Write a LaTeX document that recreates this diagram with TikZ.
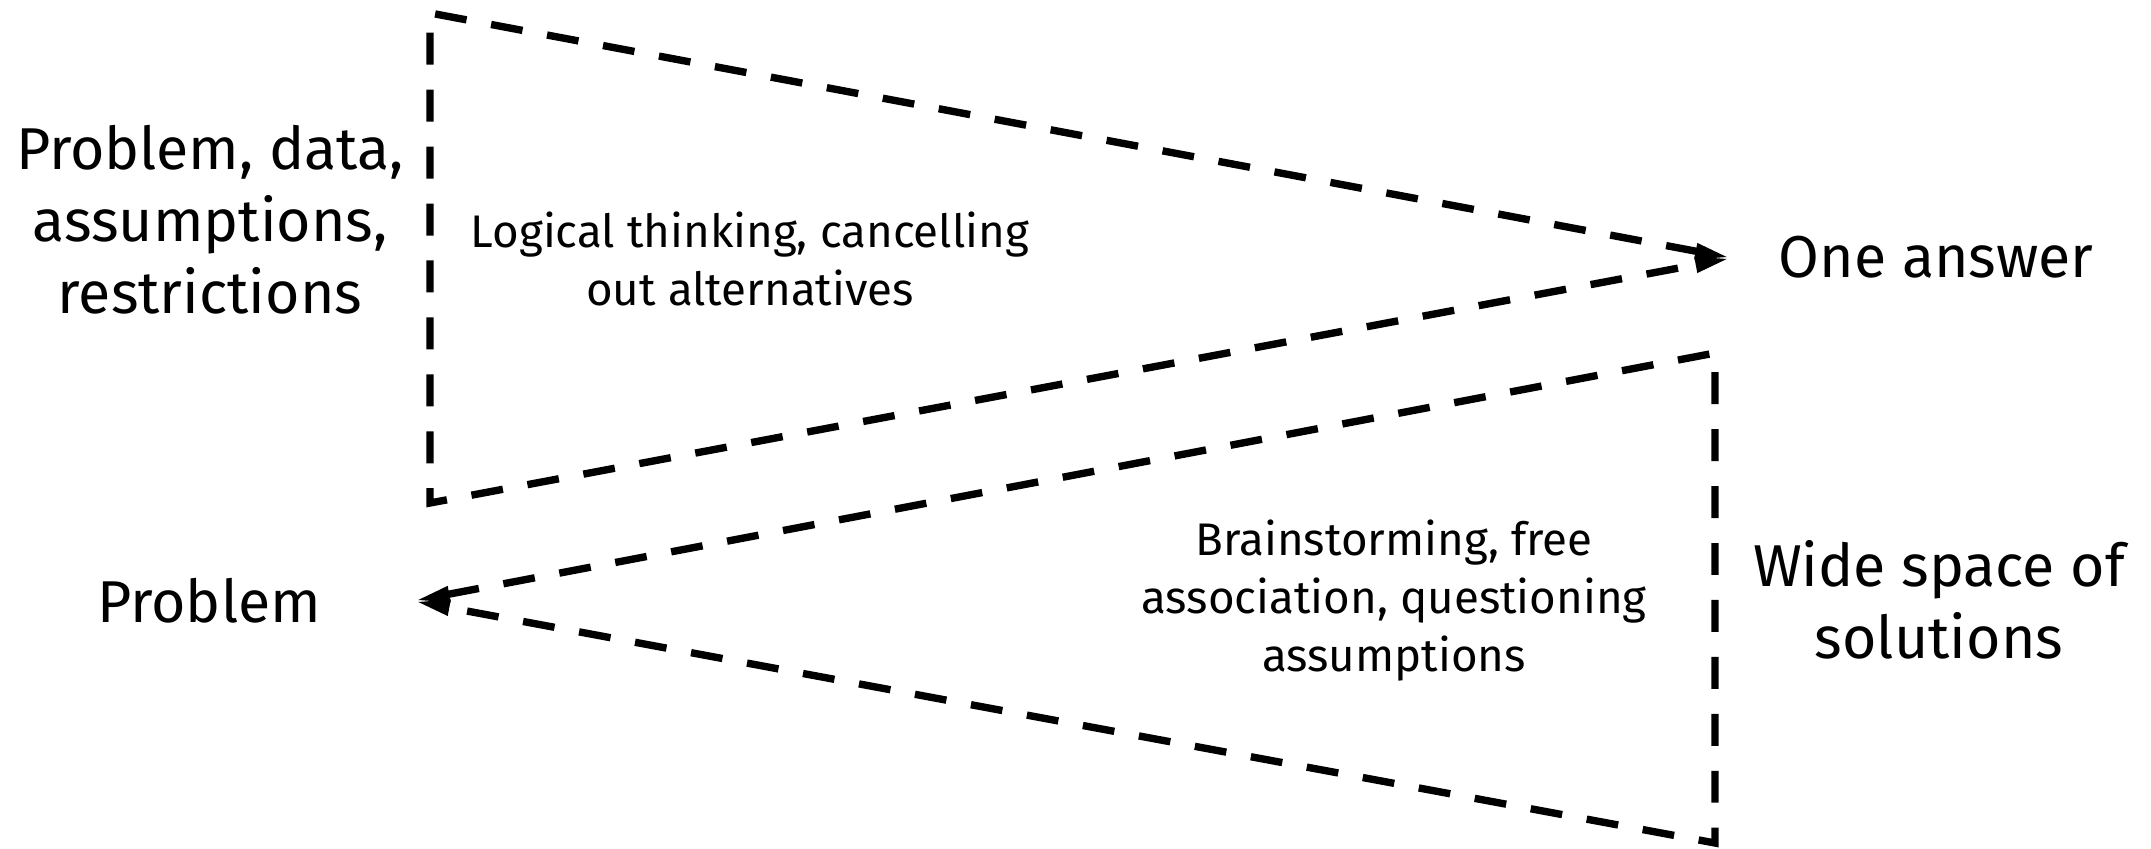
\documentclass[tikz,border=0pt]{standalone}
\usepackage{fontspec}
\setmainfont{Fira Sans}
\usetikzlibrary{arrows.meta}
\tikzset{
  funnel/.style={line width=2.1pt, dash pattern=on 9.1pt off 7.1pt, line join=miter,
    {Triangle[length=10.5pt,width=4pt]}-{Triangle[length=10.5pt,width=4pt]}},
  bigtext/.style={align=center, inner sep=0pt, font=\fontsize{16.8}{20.5}\selectfont},
  smalltext/.style={align=center, inner sep=0pt, font=\fontsize{13}{16.5}\selectfont}
}
\begin{document}
\begin{tikzpicture}
      \useasboundingbox (0,0) rectangle (21.51,-8.49);
      % converging part
      \coordinate (ctl) at (4.30,-0.13);
      \coordinate (cbl) at (4.30,-5.03);
      \coordinate (ctip) at (17.32,-2.58);
      % diverging part
      \coordinate (dtip) at (4.13,-6.01);
      \coordinate (dtr) at (17.15,-3.53);
      \coordinate (dbr) at (17.15,-8.43);
      \draw[funnel] (ctip) -- (ctl) -- (cbl) -- (ctip);
      \draw[funnel] (dtip) -- (dtr) -- (dbr) -- (dtip);
      \node[bigtext] (given) at (2.10,-2.20) {Problem, data,\\assumptions,\\restrictions};
      \node[smalltext] (logic) at (7.50,-2.59) {Logical thinking, cancelling\\out alternatives};
      \node[bigtext] (answer) at (19.36,-2.57) {One answer};
      \node[bigtext] (problem) at (2.09,-6.01) {Problem};
      \node[smalltext] (brain) at (13.94,-6.01) {Brainstorming, free\\association, questioning\\assumptions};
      \node[bigtext] (space) at (19.39,-6.00) {Wide space of\\solutions};
    \end{tikzpicture}
\end{document}
